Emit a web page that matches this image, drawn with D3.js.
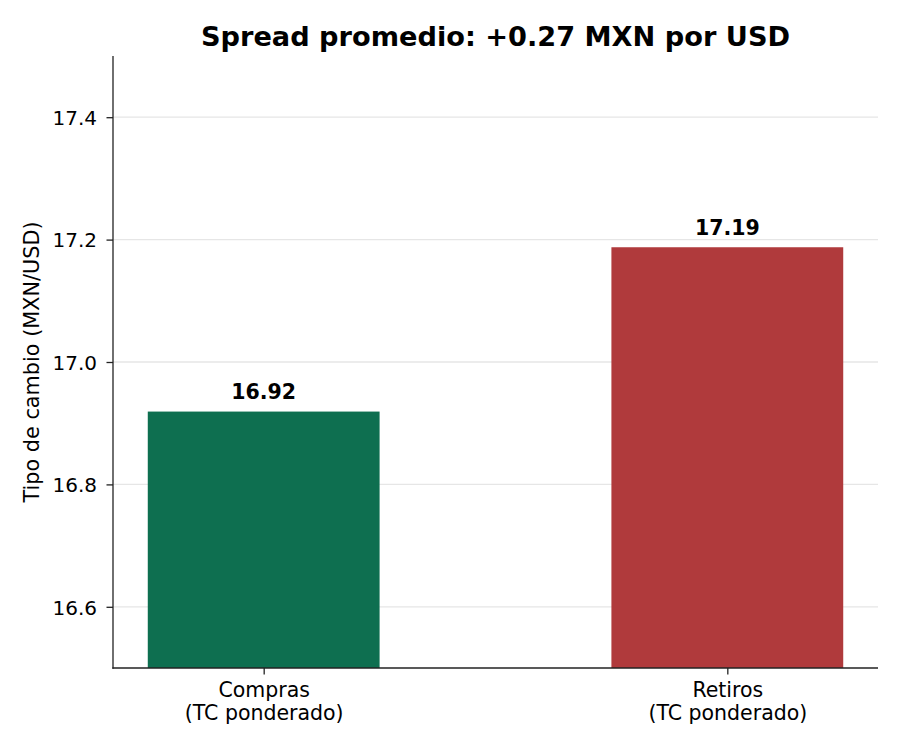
<!DOCTYPE html>
<html><head><meta charset="utf-8">
<script src="https://cdn.jsdelivr.net/npm/d3@7"></script>
<style>body{margin:0;background:#fff}svg{display:block;font-family:"DejaVu Sans",sans-serif}</style>
</head><body><svg id="c" width="900" height="750"></svg>
<script>
const categories = ["Compras\n(TC ponderado)", "Retiros\n(TC ponderado)"];
const values = [16.919, 17.1875];
const valueLabels = ["16.92", "17.19"];
const colors = ["#0e6f50", "#b03a3c"];
const yTicks = [16.6, 16.8, 17.0, 17.2, 17.4];
const title = "Spread promedio: +0.27 MXN por USD";
const yLabel = "Tipo de cambio (MXN/USD)";

const svg = d3.select("#c");
const L = 113, R = 878, T = 56, B = 668;
const x = d3.scaleLinear().domain([-0.325, 1.325]).range([L, R]);
const y = d3.scaleLinear().domain([16.5, 17.5]).range([B, T]);
const bw = 0.5;

// grid
svg.append("g").selectAll("line").data(yTicks).join("line")
  .attr("x1", L).attr("x2", R).attr("y1", d => y(d)).attr("y2", d => y(d))
  .attr("stroke", "#e6e6e6").attr("stroke-width", 1.3);

// bars
svg.append("g").selectAll("rect").data(values).join("rect")
  .attr("x", (d, i) => x(i - bw / 2)).attr("width", (d, i) => x(i + bw / 2) - x(i - bw / 2))
  .attr("y", d => y(d)).attr("height", d => y(16.5) - y(d))
  .attr("fill", (d, i) => colors[i]);

// value labels
svg.append("g").selectAll("text").data(values).join("text")
  .attr("x", (d, i) => x(i)).attr("y", d => y(d) - 12.5)
  .attr("text-anchor", "middle").attr("font-weight", "bold").attr("font-size", 20.5)
  .text((d, i) => valueLabels[i]);

// y axis
const yAxis = svg.append("g").attr("transform", `translate(${L},0)`)
  .call(d3.axisLeft(y).tickValues(yTicks).tickFormat(d3.format(".1f")).tickSize(6.5).tickPadding(9.5));
yAxis.select(".domain").remove();
yAxis.selectAll(".tick line").attr("stroke", "#222").attr("stroke-width", 1.3);
yAxis.selectAll("text").attr("font-size", 20).attr("fill", "#000").attr("font-family", "DejaVu Sans").attr("dy", "0.36em");

// x axis
const xAxis = svg.append("g").attr("transform", `translate(0,${B})`)
  .call(d3.axisBottom(x).tickValues([0, 1]).tickSize(6.5).tickFormat(""));
xAxis.select(".domain").remove();
xAxis.selectAll(".tick line").attr("stroke", "#222").attr("stroke-width", 1.3);
xAxis.selectAll(".tick").each(function(d) {
  const lines = categories[d].split("\n");
  const t = d3.select(this).append("text").attr("fill", "#000").attr("font-size", 20.5)
    .attr("text-anchor", "middle").attr("font-family", "DejaVu Sans");
  lines.forEach((s, k) => t.append("tspan").attr("x", 0).attr("y", 29 + k * 22.5).text(s));
});

// spines
svg.append("line").attr("x1", L).attr("x2", L).attr("y1", T).attr("y2", B + 0.65).attr("stroke", "#222").attr("stroke-width", 1.3);
svg.append("line").attr("x1", L - 0.65).attr("x2", R).attr("y1", B).attr("y2", B).attr("stroke", "#222").attr("stroke-width", 1.3);

// title
svg.append("text").attr("x", (L + R) / 2).attr("y", 45.5).attr("text-anchor", "middle")
  .attr("font-weight", "bold").attr("font-size", 27.2).text(title);

// y label
svg.append("text").attr("transform", `translate(39,${(T + B) / 2}) rotate(-90)`)
  .attr("text-anchor", "middle").attr("font-size", 20.8).text(yLabel);
</script></body></html>
